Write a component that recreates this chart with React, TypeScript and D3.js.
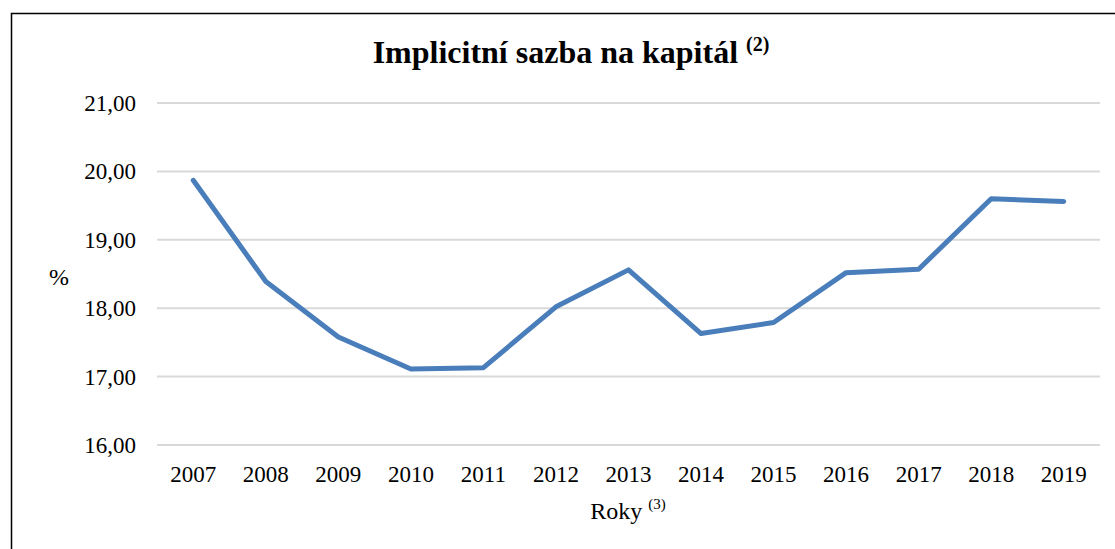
import { useEffect, useRef } from 'react'
import * as d3 from 'd3'

const years = ['2007', '2008', '2009', '2010', '2011', '2012', '2013', '2014', '2015', '2016', '2017', '2018', '2019']
const rates = [19.87, 18.39, 17.58, 17.11, 17.13, 18.02, 18.56, 17.63, 17.79, 18.52, 18.57, 19.6, 19.56]
const yTicks = [16, 17, 18, 19, 20, 21]

const W = 1115
const H = 549

const App = () => {
  const svgRef = useRef<SVGSVGElement>(null)

  useEffect(() => {
    const svg = d3.select(svgRef.current)
    svg.selectAll('*').remove()

    const font = '"Liberation Serif", "Times New Roman", serif'
    const left = 157
    const right = 1100
    const top = 103
    const bottom = 445

    const x = d3.scaleBand().domain(years).range([left, right])
    const y = d3.scaleLinear().domain([16, 21]).range([bottom, top])

    // frame (only top and left edges visible)
    svg.append('path')
      .attr('d', `M11.5,${H} L11.5,13.5 L${W},13.5`)
      .attr('fill', 'none')
      .attr('stroke', '#000')
      .attr('stroke-width', 1.5)

    // grid + y labels
    yTicks.forEach(t => {
      svg.append('line')
        .attr('x1', left).attr('x2', right)
        .attr('y1', y(t)).attr('y2', y(t))
        .attr('stroke', '#d9d9d9')
        .attr('stroke-width', 2)
      svg.append('text')
        .attr('x', 136)
        .attr('y', y(t))
        .attr('dy', '0.35em')
        .attr('text-anchor', 'end')
        .style('font-family', font)
        .style('font-size', '23px')
        .text(d3.format('.2f')(t).replace('.', ','))
    })

    // x labels
    years.forEach(yr => {
      svg.append('text')
        .attr('x', x(yr)! + x.bandwidth() / 2)
        .attr('y', 482)
        .attr('text-anchor', 'middle')
        .style('font-family', font)
        .style('font-size', '23px')
        .text(yr)
    })

    const line = d3.line<number>()
      .x((d, i) => x(years[i])! + x.bandwidth() / 2)
      .y(d => y(d))

    svg.append('path')
      .datum(rates)
      .attr('fill', 'none')
      .attr('stroke', '#4a7ebb')
      .attr('stroke-width', 5)
      .attr('stroke-linejoin', 'round')
      .attr('stroke-linecap', 'round')
      .attr('d', line)

    // title
    const title = svg.append('text')
      .attr('x', 571)
      .attr('y', 63)
      .attr('text-anchor', 'middle')
      .style('font-family', font)
      .style('font-size', '32px')
      .style('font-weight', 'bold')
    title.append('tspan').text('Implicitní sazba na kapitál ')
    title.append('tspan')
      .attr('dy', -12)
      .style('font-size', '20px')
      .text('(2)')

    // y title
    svg.append('text')
      .attr('x', 59)
      .attr('y', 285)
      .attr('text-anchor', 'middle')
      .style('font-family', font)
      .style('font-size', '24px')
      .text('%')

    // x title
    const xt = svg.append('text')
      .attr('x', 628)
      .attr('y', 519)
      .attr('text-anchor', 'middle')
      .style('font-family', font)
      .style('font-size', '24px')
    xt.append('tspan').text('Roky ')
    xt.append('tspan')
      .attr('dy', -10)
      .style('font-size', '15px')
      .text('(3)')
  }, [])

  return (
    <svg ref={svgRef} width={W} height={H}
      style={{ position: 'absolute', left: 0, top: 0, background: '#fff' }} />
  )
}

export default App
